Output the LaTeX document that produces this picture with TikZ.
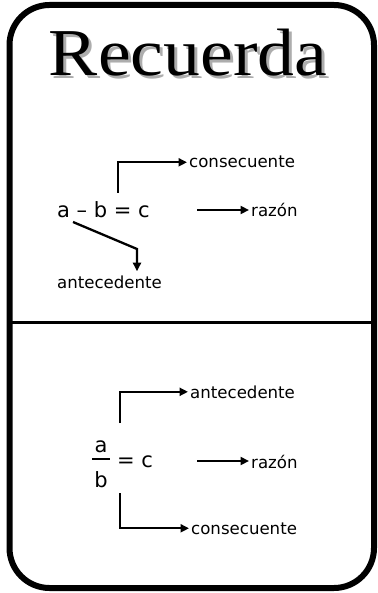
\documentclass[tikz,border=0pt]{standalone}
\usepackage{fontspec}
\usepackage{tikz}
\setmainfont{DejaVu Sans}
\newfontfamily\titlefont{Liberation Serif}
\usetikzlibrary{positioning, calc, arrows.meta}

\begin{document}
\begin{tikzpicture}[x=1pt, y=-1pt, >={Triangle[length=8.5pt,width=8pt]},
    expr/.style={inner sep=0pt, font=\fontsize{21}{24}\selectfont},
    lbl/.style={inner sep=2pt, font=\fontsize{16.6}{18}\selectfont},
    conn/.style={->, line width=2.3pt}]
    \useasboundingbox (0,0) rectangle (377,593);

    % Frame and divider
    \draw[line width=6pt, rounded corners=40pt] (9.5,5) rectangle (374,588);
    \draw[line width=3pt] (9.5,322) -- (374,322);

    % Title with shadow
    \node[anchor=base, text=black!32, xscale=1.1, inner sep=0pt,
          font=\titlefont\fontsize{67}{70}\selectfont] (titleshadow) at (191,79) {Recuerda};
    \node[anchor=base, xscale=1.1, inner sep=0pt,
          font=\titlefont\fontsize{67}{70}\selectfont] (title) at (188,76) {Recuerda};

    % Difference
    \node[expr, anchor=base west] (diff) at (57,218) {a – b = c};
    \node[lbl, anchor=base west] (consec1) at (187,168) {consecuente};
    \node[lbl, anchor=base west] (razon1) at (249,217) {razón};
    \node[lbl, anchor=base west, inner sep=4pt] (ante1) at (53,288) {antecedente};
    \coordinate (c1start) at (118,193);
    \coordinate (r1start) at (197,210);
    \coordinate (a1start) at (73,222);
    \coordinate (a1bend) at (137,249);
    \draw[conn] (c1start) |- (consec1.west);
    \draw[conn] (r1start) -- (razon1.west |- r1start);
    \draw[conn] (a1start) -- (a1bend) -- (a1bend |- ante1.north);

    % Quotient
    \node[expr, anchor=base] (num) at (101,452) {a};
    \node[expr, anchor=base] (den) at (101,487) {b};
    \draw[line width=2.3pt] (92,459) -- (110,459);
    \node[expr, anchor=base west] (quot) at (117,467) {= c};
    \node[lbl, anchor=base west] (ante2) at (188,398) {antecedente};
    \node[lbl, anchor=base west] (razon2) at (249,468) {razón};
    \node[lbl, anchor=base west] (consec2) at (189,534) {consecuente};
    \coordinate (a2start) at (120,423);
    \coordinate (r2start) at (197,461);
    \coordinate (c2start) at (120,493);
    \draw[conn] (a2start) |- (ante2.west);
    \draw[conn] (r2start) -- (razon2.west |- r2start);
    \draw[conn] (c2start) |- (consec2.west);
\end{tikzpicture}
\end{document}
